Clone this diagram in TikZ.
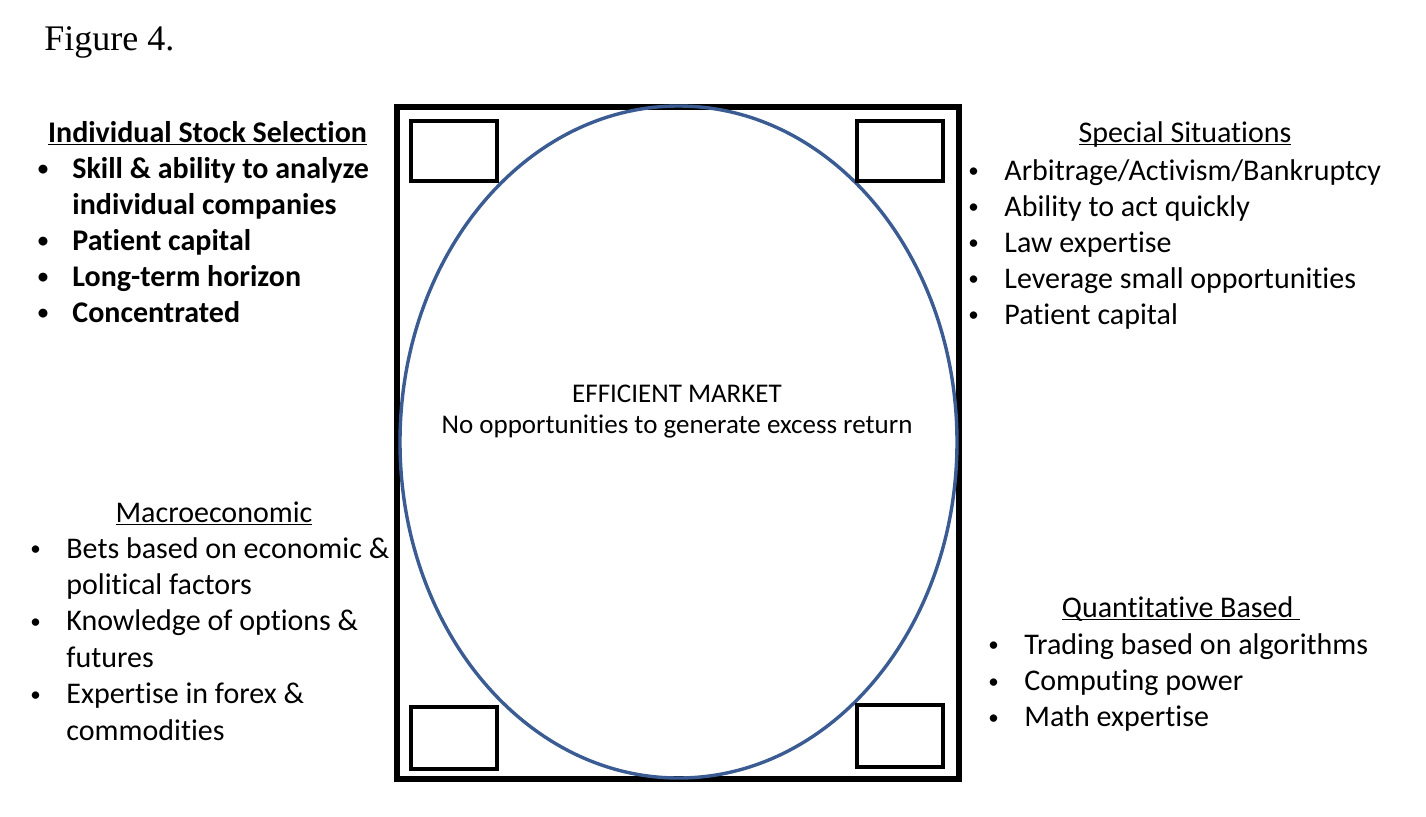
\documentclass[tikz,border=0pt]{standalone}
\usepackage{fontspec}
\usepackage{array}
\setmainfont{Carlito}[Ligatures=NoCommon]
\newfontfamily\figfont{Liberation Serif}
\usepackage{tikz}

\definecolor{ovalblue}{HTML}{3A5C92}
\newcommand{\sidefont}{\fontsize{15pt}{18pt}\selectfont}
\newcommand{\macrofont}{\fontsize{15pt}{18.2pt}\selectfont}
\newcommand{\blt}{\hspace*{1.2pt}{\fontsize{10.5pt}{10.5pt}\selectfont\raisebox{1.2pt}{\textbullet}}}
\newcommand{\uln}[1]{\underline{\smash{#1}}}

\tikzset{
  frame/.style={draw=black, line width=3pt},
  cornerbox/.style={draw=black, line width=2pt},
  oval/.style={draw=ovalblue, line width=1.7pt},
  heading/.style={anchor=base, inner sep=0pt, font=\sidefont},
  bullets/.style={anchor=base west, inner sep=0pt, font=\sidefont}
}

\begin{document}
\begin{tikzpicture}[x=0.5pt, y=-0.5pt]
\useasboundingbox (0,0) rectangle (1426,816);

\node [anchor=base west, inner sep=0pt, font=\figfont\fontsize{18pt}{20pt}\selectfont] (fig) at (44,50) {Figure 4.};

% frame, oval and the four corner boxes
\draw [frame] (397,107) rectangle (959,779);
\draw [oval] (678.5,442) ellipse [x radius=278.5, y radius=336];
\draw [cornerbox] (411,121) rectangle (497,181);
\draw [cornerbox] (857,121) rectangle (943,181);
\draw [cornerbox] (411,707) rectangle (497,769);
\draw [cornerbox] (857,705) rectangle (943,767);

\node [anchor=base, inner sep=0pt, align=center, font=\fontsize{13.5pt}{15.5pt}\selectfont] (eff) at (677,433) {EFFICIENT MARKET\\No opportunities to generate excess return};

% individual stock selection
\node [heading] (ish) at (207.5,142) {\textbf{\uln{Individual Stock Selection}}};
\node [bullets] (isl) at (35,178) {\bfseries
\begin{tabular}[t]{@{}p{18.5pt}@{}l@{}}
\blt & Skill \& ability to analyze\\
 & individual companies\\
\blt & Patient capital\\
\blt & Long-term horizon\\
\blt & Concentrated
\end{tabular}};

% special situations
\node [heading] (ssh) at (1185,142) {\uln{Special Situations}};
\node [bullets] (ssl) at (965.5,180) {%
\begin{tabular}[t]{@{}p{19.25pt}@{}l@{}}
\blt & Arbitrage/Activism/Bankruptcy\\
\blt & Ability to act quickly\\
\blt & Law expertise\\
\blt & Leverage small opportunities\\
\blt & Patient capital
\end{tabular}};

% macroeconomic
\node [heading] (mch) at (214,522) {\uln{Macroeconomic}};
\node [bullets, font=\macrofont] (mcl) at (27.5,558) {%
\begin{tabular}[t]{@{}p{19.25pt}@{}l@{}}
\blt & Bets based on economic \&\\
 & political factors\\
\blt & Knowledge of options \&\\
 & futures\\
\blt & Expertise in forex \&\\
 & commodities
\end{tabular}};

% quantitative based
\node [heading] (qbh) at (1181,617) {\uln{Quantitative Based\ }};
\node [bullets, font=\macrofont] (qbl) at (985.5,654) {%
\begin{tabular}[t]{@{}p{19.25pt}@{}l@{}}
\blt & Trading based on algorithms\\
\blt & Computing power\\
\blt & Math expertise
\end{tabular}};

\end{tikzpicture}
\end{document}
